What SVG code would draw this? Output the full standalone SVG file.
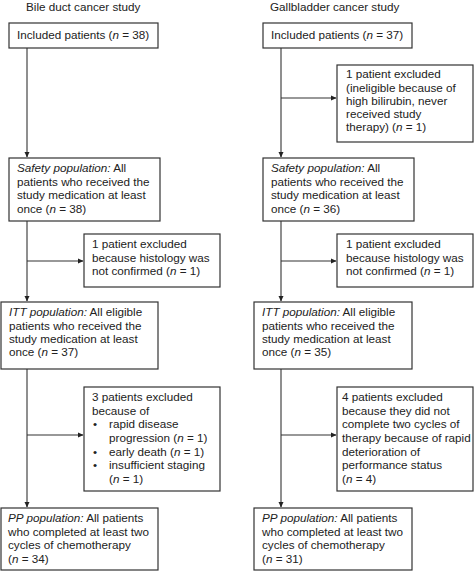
<svg xmlns="http://www.w3.org/2000/svg" width="474" height="571" viewBox="0 0 474 571">
<style>
text{font-family:"Liberation Sans",Arial,sans-serif;font-size:11.7px;fill:#222}
.i{font-style:italic}
rect{fill:#fff;stroke:#333;stroke-width:1.2}
.c line{stroke:#333;stroke-width:1.1}
</style>
<defs>
<marker id="a" markerWidth="6" markerHeight="6" refX="5" refY="3" orient="auto" markerUnits="userSpaceOnUse">
<path d="M0,0.5 L5.5,3 L0,5.5 Z" fill="#222"/>
</marker>
</defs>
<rect width="474" height="571" style="fill:#fff;stroke:none"/>
<text x="26" y="11">Bile duct cancer study</text>
<text x="270" y="11">Gallbladder cancer study</text>

<g class="c">
<line x1="27" y1="48" x2="27" y2="157" marker-end="url(#a)"/>
<line x1="27" y1="221" x2="27" y2="301" marker-end="url(#a)"/>
<line x1="27" y1="261" x2="83" y2="261" marker-end="url(#a)"/>
<line x1="27" y1="369" x2="27" y2="507" marker-end="url(#a)"/>
<line x1="27" y1="435" x2="83" y2="435" marker-end="url(#a)"/>
<line x1="281" y1="48" x2="281" y2="157" marker-end="url(#a)"/>
<line x1="281" y1="98" x2="336" y2="98" marker-end="url(#a)"/>
<line x1="281" y1="221" x2="281" y2="301" marker-end="url(#a)"/>
<line x1="281" y1="261" x2="336" y2="261" marker-end="url(#a)"/>
<line x1="281" y1="369" x2="281" y2="507" marker-end="url(#a)"/>
<line x1="281" y1="435" x2="336" y2="435" marker-end="url(#a)"/>
</g>

<g id="incL">
<rect x="9" y="23" width="149" height="25"/>
<text x="17" y="38.5">Included patients (<tspan class="i">n</tspan> = 38)</text>
</g>
<g id="safL">
<rect x="9" y="158" width="151" height="63"/>
<text x="17" y="172"><tspan class="i">Safety population:</tspan> All</text>
<text x="17" y="185.5">patients who received the</text>
<text x="17" y="199">study medication at least</text>
<text x="17" y="212.5">once (<tspan class="i">n</tspan> = 38)</text>
</g>
<g id="exL1">
<rect x="84" y="234" width="136" height="53"/>
<text x="92" y="248">1 patient excluded</text>
<text x="92" y="261.5">because histology was</text>
<text x="92" y="275">not confirmed (<tspan class="i">n</tspan> = 1)</text>
</g>
<g id="ittL">
<rect x="1" y="302" width="157" height="67"/>
<text x="9" y="316"><tspan class="i">ITT population:</tspan> All eligible</text>
<text x="9" y="329.5">patients who received the</text>
<text x="9" y="343">study medication at least</text>
<text x="9" y="356">once (<tspan class="i">n</tspan> = 37)</text>
</g>
<g id="exL2">
<rect x="84" y="387" width="136" height="104"/>
<text x="92" y="401">3 patients excluded</text>
<text x="92" y="414.5">because of</text>
<text x="93" y="428">•</text><text x="109" y="428">rapid disease</text>
<text x="109" y="441.5">progression (<tspan class="i">n</tspan> = 1)</text>
<text x="93" y="455.5">•</text><text x="109" y="455.5">early death (<tspan class="i">n</tspan> = 1)</text>
<text x="93" y="469">•</text><text x="109" y="469">insufficient staging</text>
<text x="109" y="483">(<tspan class="i">n</tspan> = 1)</text>
</g>
<g id="ppL">
<rect x="1" y="508" width="157" height="62"/>
<text x="8" y="522"><tspan class="i">PP population:</tspan> All patients</text>
<text x="8" y="535.5">who completed at least two</text>
<text x="8" y="549">cycles of chemotherapy</text>
<text x="8" y="562.5">(<tspan class="i">n</tspan> = 34)</text>
</g>

<g id="incR">
<rect x="263" y="23" width="149" height="25"/>
<text x="271" y="38.5">Included patients (<tspan class="i">n</tspan> = 37)</text>
</g>
<g id="exR0">
<rect x="337" y="65" width="136" height="77"/>
<text x="346" y="78">1 patient excluded</text>
<text x="346" y="91.5">(ineligible because of</text>
<text x="346" y="104.5">high bilirubin, never</text>
<text x="346" y="118">received study</text>
<text x="346" y="131">therapy) (<tspan class="i">n</tspan> = 1)</text>
</g>
<g id="safR">
<rect x="263" y="158" width="151" height="63"/>
<text x="271" y="172"><tspan class="i">Safety population:</tspan> All</text>
<text x="271" y="185.5">patients who received the</text>
<text x="271" y="199">study medication at least</text>
<text x="271" y="212.5">once (<tspan class="i">n</tspan> = 36)</text>
</g>
<g id="exR1">
<rect x="337" y="234" width="136" height="53"/>
<text x="346" y="248">1 patient excluded</text>
<text x="346" y="261.5">because histology was</text>
<text x="346" y="275">not confirmed (<tspan class="i">n</tspan> = 1)</text>
</g>
<g id="ittR">
<rect x="254" y="302" width="158" height="67"/>
<text x="262" y="316"><tspan class="i">ITT population:</tspan> All eligible</text>
<text x="262" y="329.5">patients who received the</text>
<text x="262" y="343">study medication at least</text>
<text x="262" y="356">once (<tspan class="i">n</tspan> = 35)</text>
</g>
<g id="exR2">
<rect x="337" y="387" width="136" height="104"/>
<text x="342" y="401">4 patients excluded</text>
<text x="342" y="414.5">because they did not</text>
<text x="342" y="428">complete two cycles of</text>
<text x="342" y="441.5">therapy because of rapid</text>
<text x="342" y="455.5">deterioration of</text>
<text x="342" y="469">performance status</text>
<text x="342" y="483">(<tspan class="i">n</tspan> = 4)</text>
</g>
<g id="ppR">
<rect x="254" y="508" width="158" height="62"/>
<text x="262" y="522"><tspan class="i">PP population:</tspan> All patients</text>
<text x="262" y="535.5">who completed at least two</text>
<text x="262" y="549">cycles of chemotherapy</text>
<text x="262" y="562.5">(<tspan class="i">n</tspan> = 31)</text>
</g>
</svg>
